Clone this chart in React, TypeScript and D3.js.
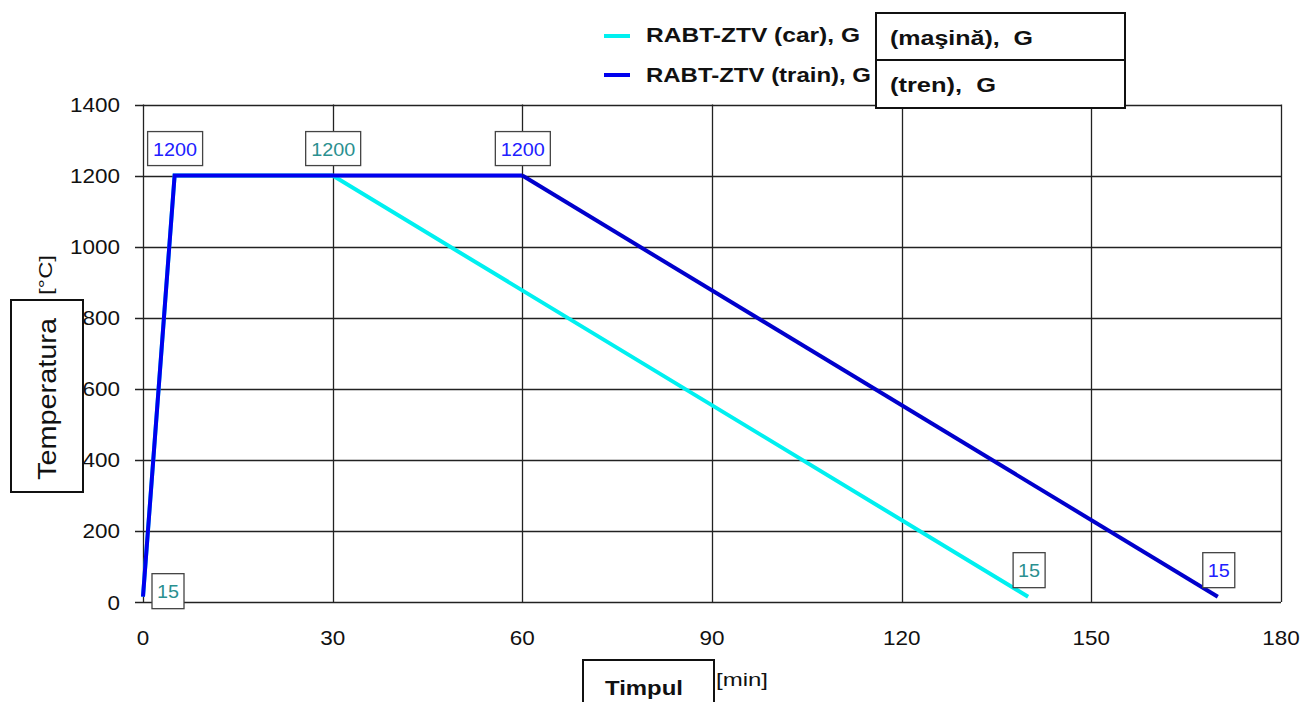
import React from 'react';
import * as d3 from 'd3';

// time in minutes, temperature in °C
const carTime = [0, 5, 30, 140];
const carTemp = [15, 1200, 1200, 15];
const trainTime = [0, 5, 60, 170];
const trainTemp = [15, 1200, 1200, 15];

const xTicks = [0, 30, 60, 90, 120, 150, 180];
const yTicks = [0, 200, 400, 600, 800, 1000, 1200, 1400];

// data labels: [time, temp, text, series]
const labelPoints: [number, number, string, string][] = [
    [5, 1200, "1200", "train"],
    [30, 1200, "1200", "car"],
    [60, 1200, "1200", "train"],
    [0, 15, "15", "car"],
    [140, 15, "15", "car"],
    [170, 15, "15", "train"],
];

const legendNames = ["RABT-ZTV (car), G", "RABT-ZTV (train), G"];
const legendOverlay = ["(maşină),  G", "(tren),  G"];

const width = 1303;
const height = 702;

function App() {
    const x = d3.scaleLinear().domain([0, 180]).range([143, 1281]);
    const y = d3.scaleLinear().domain([0, 1400]).range([602, 104.5]);

    const line = d3.line<[number, number]>()
        .x(d => x(d[0]))
        .y(d => y(d[1]));

    const carPts = carTime.map((t, i) => [t, carTemp[i]] as [number, number]);
    const trainPts = trainTime.map((t, i) => [t, trainTemp[i]] as [number, number]);

    const colors: Record<string, string> = {car: "#00f0f0", train: "#0000ee"};
    const labelColors: Record<string, string> = {car: "#2a9090", train: "#2020ff"};

    // label box relative to the point
    const labelBox = (t: number, v: number, text: string) => {
        const w = text.length === 4 ? 55 : 32;
        const h = text.length === 4 ? 34 : 35;
        if (v > 1000) return {bx: x(t) - 27, by: y(v) - 44, w, h};
        if (t === 0) return {bx: x(t) + 9, by: y(v) - 23, w, h};
        return {bx: x(t) - 15, by: y(v) - 44, w, h};
    };

    const font = "Arial, 'Liberation Sans', sans-serif";

    return (
        <svg width={width} height={height} style={{position: "absolute", left: 0, top: 0, background: "#fff"}}>
            {/* grid */}
            {yTicks.map(t => (
                <line key={"gy" + t} x1={135} x2={1281} y1={Math.round(y(t)) + 0.5} y2={Math.round(y(t)) + 0.5}
                      stroke="#222" strokeWidth={1.3}/>
            ))}
            {xTicks.map(t => (
                <line key={"gx" + t} x1={Math.round(x(t)) + 0.5} x2={Math.round(x(t)) + 0.5} y1={y(1400)} y2={y(0)}
                      stroke="#222" strokeWidth={1.3}/>
            ))}
            {yTicks.map(t => (
                <text key={"ty" + t} x={120} y={y(t) + 7.5} textAnchor="end" fontFamily={font} fontSize={21}
                      textLength={String(t).length * 12.5} lengthAdjust="spacingAndGlyphs" fill="#111">{t}</text>
            ))}
            {xTicks.map(t => (
                <text key={"tx" + t} x={x(t)} y={645} textAnchor="middle" fontFamily={font} fontSize={21}
                      textLength={String(t).length * 12.5} lengthAdjust="spacingAndGlyphs" fill="#111">{t}</text>
            ))}

            {/* series */}
            <path d={line(carPts) || ""} fill="none" stroke={colors.car} strokeWidth={4}/>
            <path d={line(trainPts.slice(0, 3)) || ""} fill="none" stroke={colors.train} strokeWidth={4}/>
            <path d={line(trainPts.slice(2)) || ""} fill="none" stroke="#0000cc" strokeWidth={4}/>

            {/* data labels */}
            {labelPoints.map(([t, v, text, s], i) => {
                const b = labelBox(t, v, text);
                return (
                    <g key={"lb" + i}>
                        <rect x={b.bx} y={b.by} width={b.w} height={b.h} fill="#fff" stroke="#444" strokeWidth={1.3}/>
                        <text x={b.bx + b.w / 2} y={b.by + b.h / 2 + 7} textAnchor="middle" fontFamily={font}
                              fontSize={19} textLength={text.length * 11} lengthAdjust="spacingAndGlyphs"
                              fill={labelColors[s]}>{text}</text>
                    </g>
                );
            })}

            {/* legend */}
            {legendNames.map((n, i) => (
                <g key={"lg" + i}>
                    <line x1={604} x2={630} y1={36 + i * 39} y2={36 + i * 39}
                          stroke={i === 0 ? colors.car : colors.train} strokeWidth={4}/>
                    <text x={646} y={42 + i * 40} fontFamily={font} fontSize={20} fontWeight="bold"
                          textLength={i === 0 ? 214 : 225} lengthAdjust="spacingAndGlyphs" fill="#111">{n}</text>
                </g>
            ))}
            <rect x={876} y={13} width={249} height={95} fill="#fff" stroke="#111" strokeWidth={2}/>
            <line x1={876} x2={1125} y1={60} y2={60} stroke="#111" strokeWidth={2}/>
            {legendOverlay.map((n, i) => (
                <text key={"lo" + i} x={890} y={45 + i * 47} fontFamily={font} fontSize={20} fontWeight="bold"
                      textLength={i === 0 ? 143 : 106} lengthAdjust="spacingAndGlyphs"
                      fill="#111" style={{whiteSpace: "pre"}}>{n}</text>
            ))}

            {/* y axis title */}
            <text transform="translate(52,275) rotate(-90)" textAnchor="middle" fontFamily={font} fontSize={18}
                  textLength={40} lengthAdjust="spacingAndGlyphs" fill="#111">[°C]</text>
            <rect x={11} y={300} width={72} height={192} fill="#fff" stroke="#111" strokeWidth={2}/>
            <text transform="translate(56,399) rotate(-90)" textAnchor="middle" fontFamily={font} fontSize={25}
                  textLength={162} lengthAdjust="spacingAndGlyphs" fill="#111">Temperatura</text>

            {/* x axis title */}
            <rect x={583} y={660} width={131} height={50} fill="#fff" stroke="#111" strokeWidth={2}/>
            <text x={605} y={695} fontFamily={font} fontSize={20} fontWeight="bold"
                  textLength={78} lengthAdjust="spacingAndGlyphs" fill="#111">Timpul</text>
            <text x={716} y={686} fontFamily={font} fontSize={18}
                  textLength={52} lengthAdjust="spacingAndGlyphs" fill="#111">[min]</text>
        </svg>
    );
}

export default App;
